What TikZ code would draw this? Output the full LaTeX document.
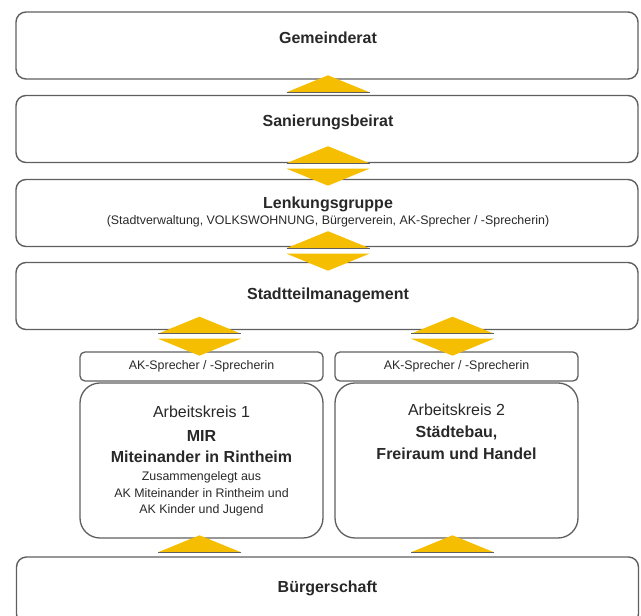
\documentclass[tikz,border=0pt]{standalone}
\usepackage{fontspec}
\setmainfont{Liberation Sans}
\definecolor{wedgeyellow}{RGB}{246,190,0}
\definecolor{boxgray}{RGB}{95,95,95}
\definecolor{inkgray}{RGB}{40,40,40}
\tikzset{
    upwedge/.pic={
        \fill[wedgeyellow] (-41.5,0) -- (0,17) -- (41.5,0) -- cycle;
        \draw[boxgray, line width=1.2pt] (-41.5,0) -- (41.5,0);},
    downwedge/.pic={
        \fill[wedgeyellow] (-41.5,0) -- (0,-17) -- (41.5,0) -- cycle;}
}
\begin{document}
\begin{tikzpicture}[x=1pt, y=1pt,
    bigbox/.style={draw=boxgray, line width=1.4pt, rounded corners=10pt,
        minimum width=622pt, minimum height=67pt, inner sep=0pt},
    spkbox/.style={draw=boxgray, line width=1.3pt, rounded corners=5pt,
        minimum width=243pt, minimum height=29pt, inner sep=0pt},
    akbox/.style={draw=boxgray, line width=1.3pt, rounded corners=20pt,
        minimum width=243pt, minimum height=155pt, inner sep=0pt},
    head/.style={font=\fontsize{16}{19}\selectfont\bfseries, text=inkgray,
        anchor=base, inner sep=0pt},
    plain/.style={font=\fontsize{16}{19}\selectfont, text=inkgray,
        anchor=base, inner sep=0pt},
    small/.style={font=\fontsize{12.4}{15}\selectfont, text=inkgray,
        anchor=base, inner sep=0pt}]
    \path[use as bounding box, clip] (0,0) rectangle (641,616);
    % boxes
    \node[bigbox] (gem) at (327,570.5) {};
    \node[bigbox] (san) at (327,487) {};
    \node[bigbox] (lenk) at (327,403) {};
    \node[bigbox] (stm) at (327,320) {};
    \node[spkbox] (spk1) at (201.5,249.5) {};
    \node[spkbox] (spk2) at (456.5,249.5) {};
    \node[akbox] (ak1) at (201.5,155.5) {};
    \node[akbox] (ak2) at (456.5,155.5) {};
    \node[bigbox] (bue) at (327.5,25.5) {};
    % texts
    \node[head] (gemtxt) at ([xshift=1pt, yshift=1.5pt]gem.center) {Gemeinderat};
    \node[head] (santxt) at ([xshift=1pt, yshift=2pt]san.center) {Sanierungsbeirat};
    \node[head] (lenktxt) at ([xshift=1pt, yshift=4pt]lenk.center) {Lenkungsgruppe};
    \node[small] (lenksub) at ([xshift=1pt, yshift=-12pt]lenk.center)
        {(Stadtverwaltung, VOLKSWOHNUNG, Bürgerverein, AK-Sprecher / -Sprecherin)};
    \node[head] (stmtxt) at ([xshift=1pt, yshift=-4pt]stm.center) {Stadtteilmanagement};
    \node[head] (buetxt) at ([yshift=-2.5pt]bue.center) {Bürgerschaft};
    \foreach \k in {1,2}
        \node[small] (spktxt\k) at ([yshift=-3.5pt]spk\k.center) {AK-Sprecher / -Sprecherin};
    \node[plain] (ak1a) at ([yshift=-35pt]ak1.north) {Arbeitskreis 1};
    \node[head] (ak1b) at ([yshift=-59pt]ak1.north) {MIR};
    \node[head] (ak1c) at ([yshift=-80pt]ak1.north) {Miteinander in Rintheim};
    \node[small] (ak1d) at ([yshift=-98pt]ak1.north) {Zusammengelegt aus};
    \node[small] (ak1e) at ([yshift=-115pt]ak1.north) {AK Miteinander in Rintheim und};
    \node[small] (ak1f) at ([yshift=-131pt]ak1.north) {AK Kinder und Jugend};
    \node[plain] (ak2a) at ([yshift=-33pt]ak2.north) {Arbeitskreis 2};
    \node[head] (ak2b) at ([yshift=-55pt]ak2.north) {Städtebau,};
    \node[head] (ak2c) at ([yshift=-77pt]ak2.north) {Freiraum und Handel};
    % wedges
    \pic at ([xshift=1pt, yshift=2.5pt]san.north) {upwedge};
    \pic at ([xshift=1pt]san.south) {upwedge};
    \pic at ([xshift=1pt, yshift=-5.5pt]san.south) {downwedge};
    \pic at ([xshift=1pt, yshift=-1pt]lenk.south) {upwedge};
    \pic at ([xshift=1pt, yshift=-6.5pt]lenk.south) {downwedge};
    \pic at ([xshift=-2pt, yshift=-3.5pt]stm.south -| spk1.north) {upwedge};
    \pic at ([xshift=-2pt, yshift=-8.5pt]stm.south -| spk1.north) {downwedge};
    \pic at ([xshift=-4pt, yshift=-3.5pt]stm.south -| spk2.north) {upwedge};
    \pic at ([xshift=-4pt, yshift=-8.5pt]stm.south -| spk2.north) {downwedge};
    \pic at ([xshift=-2pt, yshift=4pt]bue.north -| ak1.south) {upwedge};
    \pic at ([xshift=-4pt, yshift=4pt]bue.north -| ak2.south) {upwedge};
\end{tikzpicture}
\end{document}
